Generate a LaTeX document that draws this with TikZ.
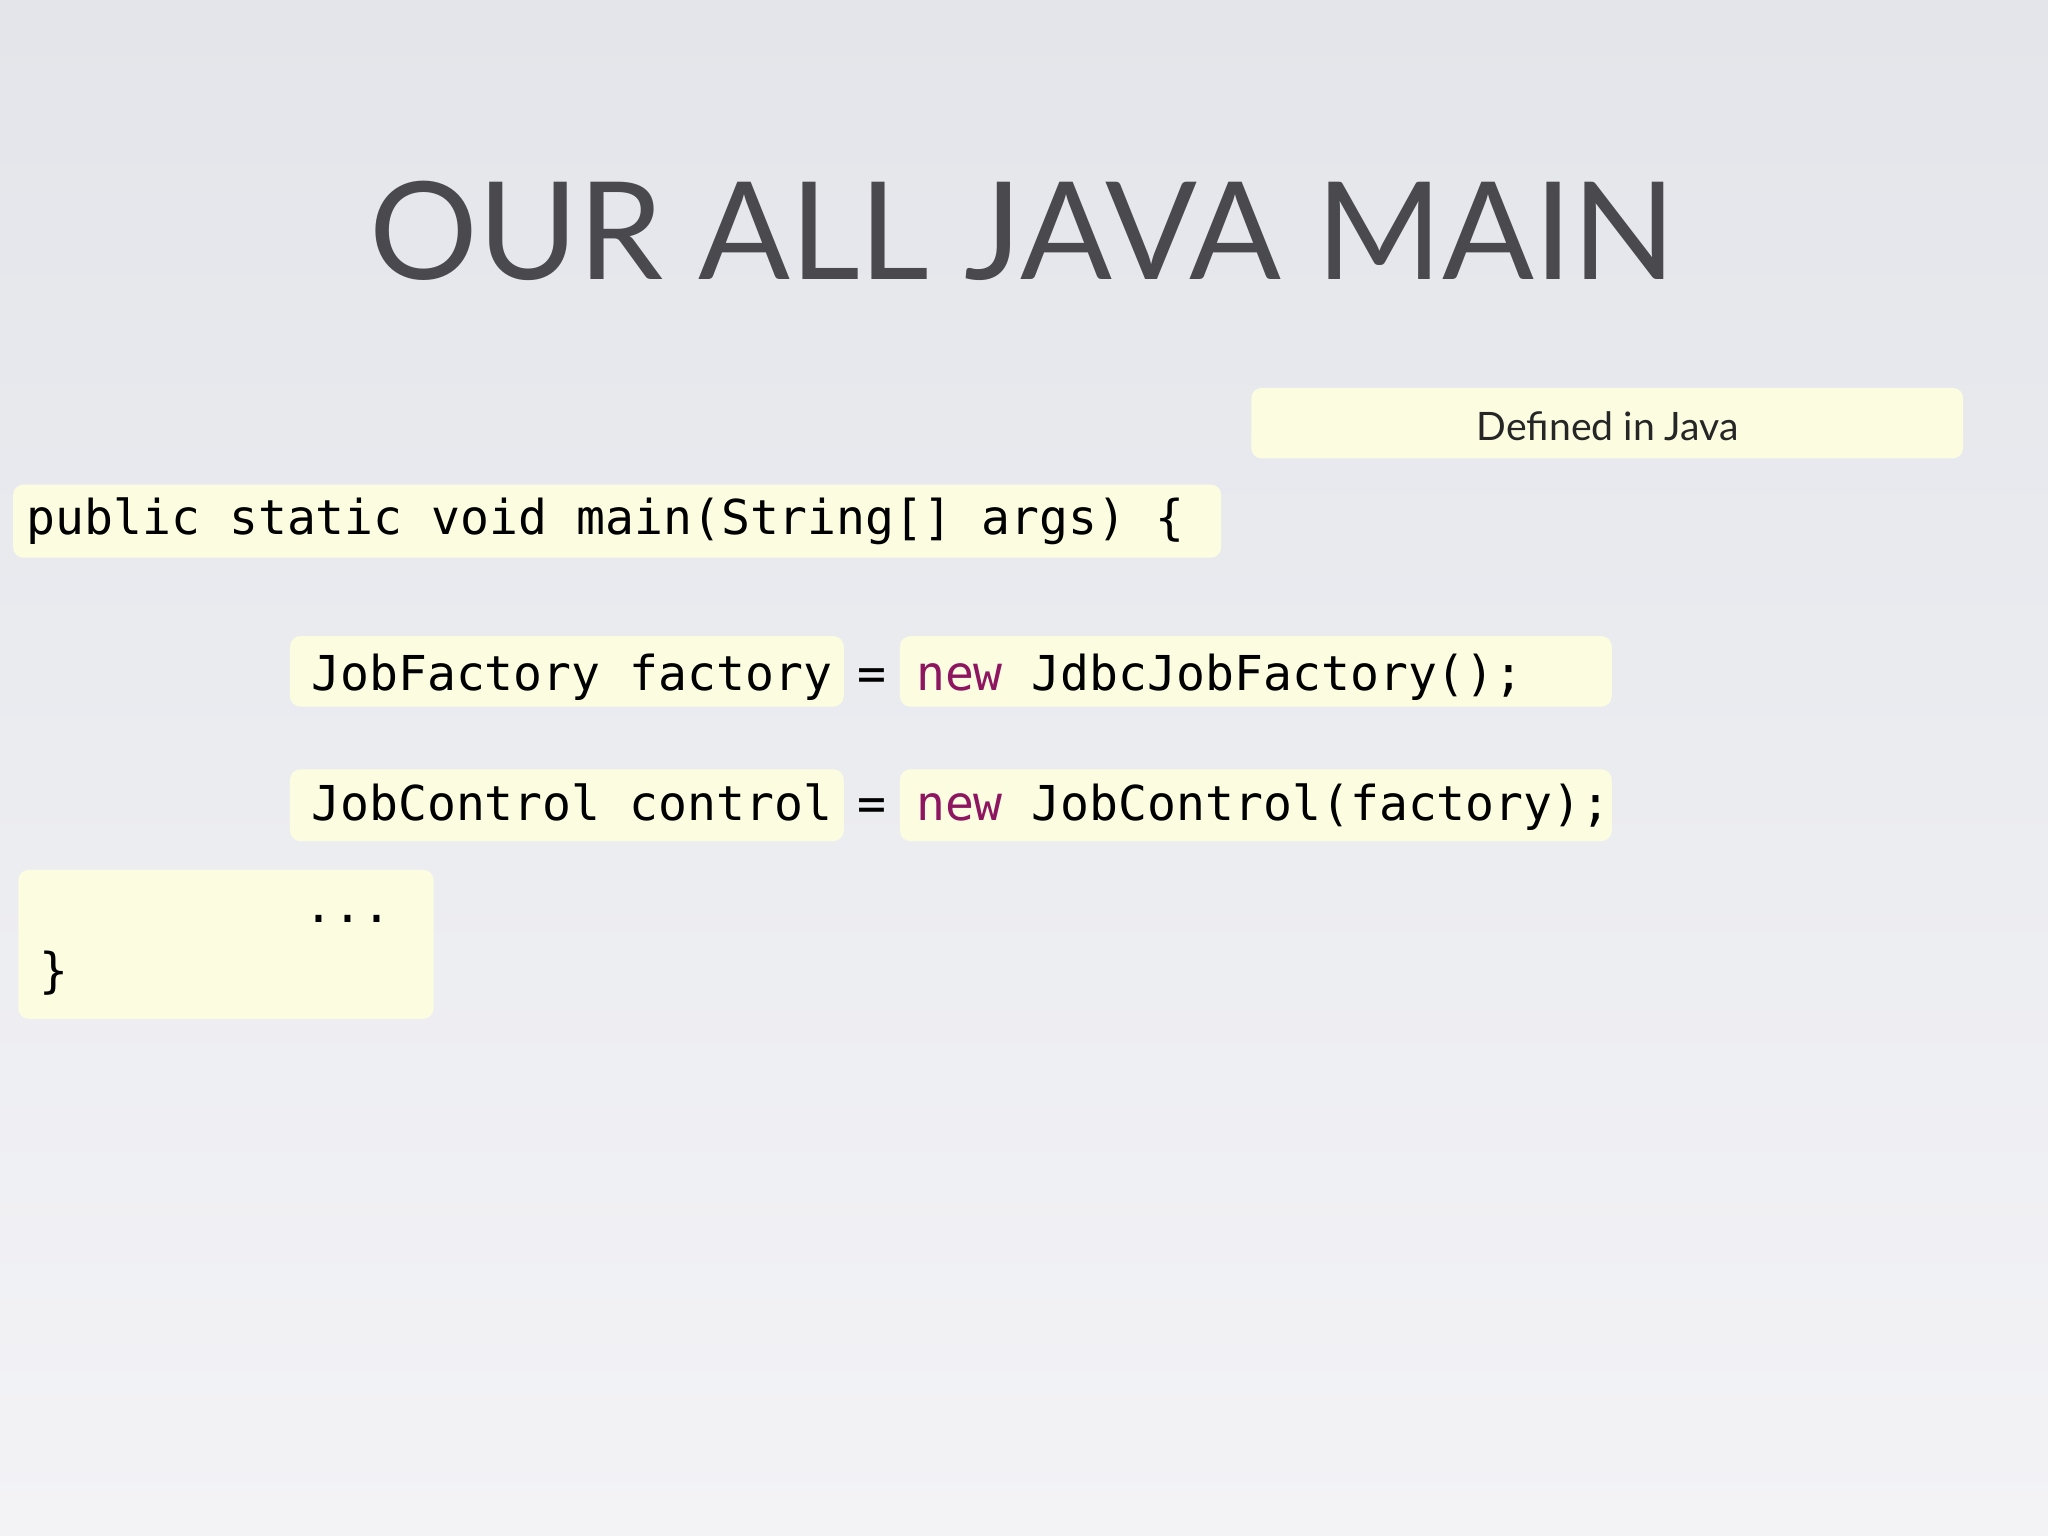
\documentclass[tikz,border=0pt]{standalone}
\usepackage{fontspec}
\setmainfont{Lato}
\setmonofont{DejaVu Sans Mono}
\definecolor{bgtop}{HTML}{E3E5EA}
\definecolor{bgbot}{HTML}{F3F3F6}
\definecolor{hl}{HTML}{FCFDE0}
\definecolor{kw}{HTML}{8E1560}
\definecolor{ttl}{HTML}{4A4A4E}
\begin{document}
\begin{tikzpicture}[x=0.5pt,y=-0.5pt,
  hlbox/.style={fill=hl,rounded corners=4pt,draw=none},
  code/.style={inner sep=0,anchor=base west,font=\ttfamily\fontsize{18.4}{20}\selectfont},
]
\shade[top color=bgtop,bottom color=bgbot] (0,0) rectangle (1568,1176);
\useasboundingbox (0,0) rectangle (1568,1176);
\node (title) [inner sep=0,anchor=base,text=ttl,font=\fontsize{52}{56}\selectfont] at (783,214) {OUR ALL JAVA MAIN};
\fill[hlbox] (958,297) rectangle (1503,351);
\node (def) [inner sep=0,anchor=base,text=black!85,font=\fontsize{15}{18}\selectfont] at (1231,337) {Defined in Java};
\fill[hlbox] (10,371) rectangle (935,427);
\node (main) [code] at (20,409) {public static void main(String[] args) \{};
\fill[hlbox] (222,487) rectangle (646,541);
\fill[hlbox] (689,487) rectangle (1234,541);
\node (f1) [code] at (238,529) {JobFactory factory};
\node (e1) [code] at (656,529) {=};
\node (n1) [code] at (701,529) {\textcolor{kw}{new} JdbcJobFactory();};
\fill[hlbox] (222,589) rectangle (646,644);
\fill[hlbox] (689,589) rectangle (1234,644);
\node (f2) [code] at (238,628) {JobControl control};
\node (e2) [code] at (656,628) {=};
\node (n2) [code] at (701,628) {\textcolor{kw}{new} JobControl(factory);};
\fill[hlbox] (14,666) rectangle (332,780);
\node (dots) [code] at (233,706) {...};
\node (close) [code] at (30,756) {\}};
\end{tikzpicture}
\end{document}
